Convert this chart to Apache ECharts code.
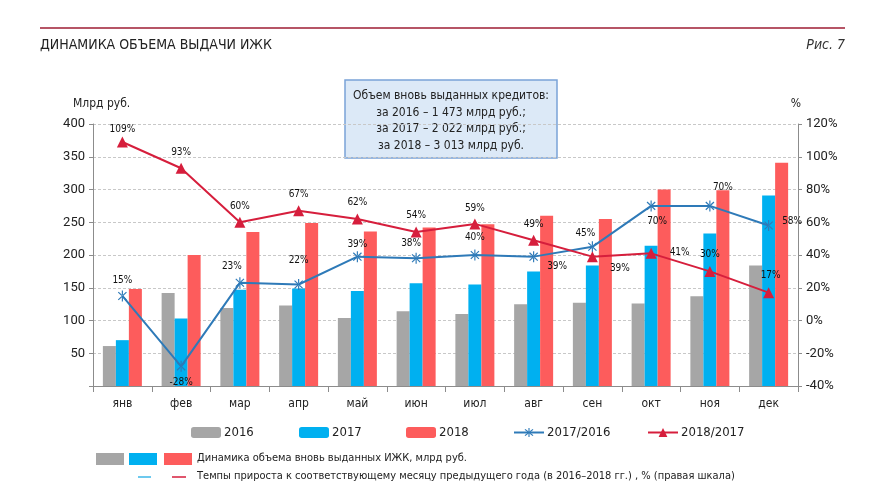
<!DOCTYPE html>
<html><head><meta charset="utf-8">
<script src="https://cdn.jsdelivr.net/npm/echarts@6/dist/echarts.min.js"></script>
<style>html,body{margin:0;padding:0;background:#fff}#c{width:871px;height:494px}</style>
</head><body><div id="c"></div>
<script>
const categories = ['янв','фев','мар','апр','май','июн','июл','авг','сен','окт','ноя','дек'];
const v2016 = [61, 142, 119, 123, 104, 114, 110, 125, 127, 126, 137, 184];
const v2017 = [70, 103, 147, 149, 145, 157, 155, 175, 184, 214, 233, 291];
const v2018 = [148, 200, 235, 249, 236, 242, 247, 260, 255, 300, 299, 341];
const g1716 = [15, -28, 23, 22, 39, 38, 40, 39, 45, 70, 70, 58];
const g1817 = [109, 93, 60, 67, 62, 54, 59, 49, 39, 41, 30, 17];
const leftTicks = [0, 50, 100, 150, 200, 250, 300, 350, 400];
const rightTicks = [-40, -20, 0, 20, 40, 60, 80, 100, 120];

// label placement (style only)
const bluePos = ['top','bottom','top','top','top','top','top','right','top','bottom','top','right'];
const blueOff = [[0,-1],[0,2],[-8,-2],[0,-10],[0,2],[-5,0],[0,-3],[5,10],[-7,1],[6,1],[13,-4],[5,-4]];
const redPos = ['top','top','top','top','top','top','top','top','right','right','top','top'];
const redOff = [[0,2],[0,-1],[0,-1],[0,-2],[0,-2],[0,-2],[0,-1],[0,-1],[8,12],[9,-1],[0,-2],[2,-3]];

const FN = '"Liberation Sans Narrow","DejaVu Sans Condensed","Roboto",sans-serif';
const FR = 'Roboto, "Liberation Sans", sans-serif';
const C16 = '#a6a6a6', C17 = '#00b0f0', C18 = '#fd5c5c', L1 = '#2e7ab8', L2 = '#d61e3c';

const star = 'path://M-1,-10L1,-10L1,10L-1,10Z M6.36,7.78L7.78,6.36L-6.36,-7.78L-7.78,-6.36Z M7.78,-6.36L6.36,-7.78L-7.78,6.36L-6.36,7.78Z';

function lineData(vals, pos, off) {
  return vals.map((v, i) => ({ value: v, label: { position: pos[i], offset: off[i] } }));
}
const labelBase = { show: true, formatter: p => p.value + '%', fontSize: 10, color: '#111', fontFamily: FN, distance: 4 };

const chart = echarts.init(document.getElementById('c'));
const legendCommon = { top: 421, itemWidth: 30, itemHeight: 11, itemGap: 0, textStyle: { fontSize: 13, color: '#222', fontFamily: FN, padding: [0,0,0,-2] } };
chart.setOption({
  animation: false,
  textStyle: { fontFamily: FN },
  grid: { left: 93, right: 73, top: 124, bottom: 108 },
  legend: [
    Object.assign({ left: 186, data: ['2016'] }, legendCommon),
    Object.assign({ left: 294, data: ['2017'] }, legendCommon),
    Object.assign({ left: 401, data: ['2018'] }, legendCommon),
    Object.assign({ left: 508, data: ['2017/2016'] }, legendCommon),
    Object.assign({ left: 642, data: ['2018/2017'] }, legendCommon)
  ],
  xAxis: {
    type: 'category', data: categories,
    axisLine: { lineStyle: { color: '#8c8c8c', width: 1 } },
    axisTick: { show: true, alignWithLabel: false, length: 6, lineStyle: { color: '#8c8c8c' } },
    axisLabel: { color: '#222', fontSize: 12, margin: 12, fontFamily: FN }
  },
  yAxis: [
    { type: 'value', min: leftTicks[0], max: leftTicks[leftTicks.length-1], interval: 50,
      name: 'Млрд руб.', nameLocation: 'end', nameGap: 14, nameTextStyle: { color: '#222', fontSize: 12, fontFamily: FN, align: 'left', padding: [0,0,0,-20] },
      axisLine: { show: true, lineStyle: { color: '#8c8c8c' } },
      axisTick: { show: true, length: 4, lineStyle: { color: '#8c8c8c' } },
      axisLabel: { color: '#222', fontSize: 13, fontFamily: FR, margin: 8, formatter: v => v === 0 ? '' : v },
      splitLine: { show: true, lineStyle: { color: '#c8c8c8', type: [3,2], width: 1 } }
    },
    { type: 'value', min: rightTicks[0], max: rightTicks[rightTicks.length-1], interval: 20, position: 'right',
      name: '%', nameLocation: 'end', nameGap: 14, nameTextStyle: { color: '#222', fontSize: 12, fontFamily: FN, align: 'center', padding: [0,4,0,0] },
      axisLine: { show: true, lineStyle: { color: '#8c8c8c' } },
      axisTick: { show: true, length: 4, lineStyle: { color: '#8c8c8c' } },
      axisLabel: { color: '#222', fontSize: 13, fontFamily: FR, margin: 8, formatter: v => v + '%' },
      splitLine: { show: false }
    }
  ],
  series: [
    { name: '2016', type: 'bar', data: v2016, itemStyle: { color: C16 }, barWidth: 13, barGap: '0%' },
    { name: '2017', type: 'bar', data: v2017, itemStyle: { color: C17 }, barWidth: 13, barGap: '0%' },
    { name: '2018', type: 'bar', data: v2018, itemStyle: { color: C18 }, barWidth: 13, barGap: '0%' },
    { name: '2017/2016', type: 'line', yAxisIndex: 1, data: lineData(g1716, bluePos, blueOff),
      lineStyle: { color: L1, width: 2 }, itemStyle: { color: L1 }, symbol: star, symbolSize: [9, 11], showAllSymbol: true,
      label: labelBase, z: 5 },
    { name: '2018/2017', type: 'line', yAxisIndex: 1, data: lineData(g1817, redPos, redOff),
      lineStyle: { color: L2, width: 2 }, itemStyle: { color: L2 }, symbol: 'triangle', symbolSize: 11, showAllSymbol: true,
      label: labelBase, z: 6 }
  ],
  graphic: [
    { type: 'line', shape: { x1: 40, y1: 28, x2: 845, y2: 28 }, style: { stroke: '#9e1c33', lineWidth: 1.5 } },
    { type: 'text', left: 40, top: 38, style: { text: 'ДИНАМИКА ОБЪЕМА ВЫДАЧИ ИЖК', font: '14px ' + FN, fill: '#222' } },
    { type: 'text', right: 26, top: 38, style: { text: 'Рис. 7', font: 'italic 14px ' + FN, fill: '#333' } },
    { type: 'rect', shape: { x: 345, y: 80, width: 212, height: 78 }, style: { fill: '#dce9f7', stroke: '#79a3d8', lineWidth: 1.5 } },
    { type: 'text', x: 451, y: 88, style: { text: 'Объем вновь выданных кредитов:\nза 2016 – 1 473 млрд руб.;\nза 2017 – 2 022 млрд руб.;\nза 2018 – 3 013 млрд руб.', font: '12px ' + FN, fill: '#222', align: 'center', lineHeight: 16.5 } },
    { type: 'rect', shape: { x: 96, y: 453, width: 28, height: 12 }, style: { fill: C16 } },
    { type: 'rect', shape: { x: 129, y: 453, width: 28, height: 12 }, style: { fill: C17 } },
    { type: 'rect', shape: { x: 164, y: 453, width: 28, height: 12 }, style: { fill: C18 } },
    { type: 'text', x: 197, y: 453, style: { text: 'Динамика объема вновь выданных ИЖК, млрд руб.', font: '11px ' + FN, fill: '#222' } },
    { type: 'line', shape: { x1: 138, y1: 477, x2: 151, y2: 477 }, style: { stroke: '#3cb7e8', lineWidth: 1.5 } },
    { type: 'line', shape: { x1: 172, y1: 477, x2: 186, y2: 477 }, style: { stroke: L2, lineWidth: 1.5 } },
    { type: 'text', x: 197, y: 471, style: { text: 'Темпы прироста к соответствующему месяцу предыдущего года (в 2016–2018 гг.) , % (правая шкала)', font: '11px ' + FN, fill: '#222' } }
  ]
});
</script></body></html>
